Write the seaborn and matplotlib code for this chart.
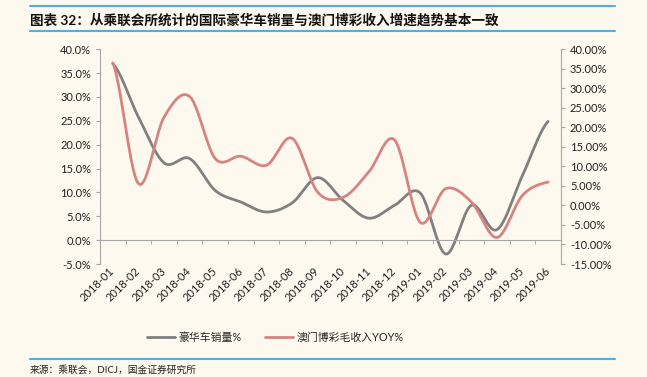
import numpy as np
import pandas as pd
import matplotlib
matplotlib.use("Agg")
import matplotlib.pyplot as plt
import seaborn as sns
from matplotlib.lines import Line2D
from matplotlib.ticker import FuncFormatter, MultipleLocator

# 数据
months = ["2018-01", "2018-02", "2018-03", "2018-04", "2018-05", "2018-06",
          "2018-07", "2018-08", "2018-09", "2018-10", "2018-11", "2018-12",
          "2019-01", "2019-02", "2019-03", "2019-04", "2019-05", "2019-06"]
luxury = [37.0, 25.8, 16.2, 17.1, 10.4, 8.0, 5.9, 7.8, 13.1, 8.3, 4.6, 7.3,
          9.9, -2.9, 7.3, 2.2, 13.6, 24.9]
macau = [36.5, 5.6, 22.6, 27.9, 12.0, 12.6, 10.3, 17.2, 3.4, 2.1, 8.6, 16.8,
         -4.3, 4.3, 0.9, -8.2, 2.6, 6.0]
series_names = ["豪华车销量%", "澳门博彩毛收入YOY%"]

BG = "#FDF9EE"
GRAY = "#808080"
RED = "#D68381"
AXIS = "#A6A6A6"


def smooth(vals, steps=24):
    # Excel 风格平滑线（Catmull-Rom）
    p = np.asarray(vals, dtype=float)
    p = np.concatenate([[p[0]], p, [p[-1]]])
    xs, ys = [], []
    for i in range(1, len(p) - 2):
        t = np.linspace(0, 1, steps, endpoint=False)
        p0, p1, p2, p3 = p[i - 1], p[i], p[i + 1], p[i + 2]
        y = 0.5 * (2 * p1 + (-p0 + p2) * t + (2 * p0 - 5 * p1 + 4 * p2 - p3) * t ** 2
                   + (-p0 + 3 * p1 - 3 * p2 + p3) * t ** 3)
        xs.append(i - 1 + t)
        ys.append(y)
    xs.append([len(vals) - 1])
    ys.append([vals[-1]])
    return pd.DataFrame({"x": np.concatenate(xs), "y": np.concatenate(ys)})


sns.set_style("white")
plt.rcParams["font.family"] = ["Lato", "Noto Sans CJK SC", "DejaVu Sans"]
plt.rcParams["axes.unicode_minus"] = False

fig = plt.figure(figsize=(6.47, 3.77), dpi=100, facecolor=BG)
ax = fig.add_axes([0.1546, 0.2997, 0.7124, 0.5696])
ax.set_facecolor(BG)
ax2 = ax.twinx()

df_lux = smooth(luxury)
df_mac = smooth(macau)
sns.lineplot(data=df_lux, x="x", y="y", ax=ax, color=GRAY, lw=2,
             sort=False, estimator=None)
sns.lineplot(data=df_mac, x="x", y="y", ax=ax2, color=RED, lw=2,
             sort=False, estimator=None)

ax.set_xlim(-0.5, len(months) - 0.5)
ax.set_ylim(-5, 40)
ax2.set_ylim(-15, 40)

ax.yaxis.set_major_locator(MultipleLocator(5))
ax2.yaxis.set_major_locator(MultipleLocator(5))
ax.yaxis.set_major_formatter(FuncFormatter(lambda v, p: f"{v:.1f}%"))
ax2.yaxis.set_major_formatter(FuncFormatter(lambda v, p: f"{v:.2f}%"))

for a in (ax, ax2):
    a.set_xlabel("")
    a.set_ylabel("")
    for s in a.spines.values():
        s.set_visible(False)

ax.spines["left"].set_visible(True)
ax.spines["left"].set_color(AXIS)
ax.spines["bottom"].set_visible(True)
ax.spines["bottom"].set_color(AXIS)
ax.spines["bottom"].set_position(("data", 0))
ax2.spines["right"].set_visible(True)
ax2.spines["right"].set_color(AXIS)

ax.set_xticks(range(len(months)))
ax.set_xticklabels(months, rotation=45, ha="right", va="center",
                   rotation_mode="anchor")
ax.set_xticks(np.arange(0.5, len(months) - 1, 1), minor=True)
ax.tick_params(axis="x", which="major", length=0, pad=21, labelsize=8,
               colors="#222222")
ax.tick_params(axis="x", which="minor", length=3, direction="out",
               color=AXIS, bottom=True)
ax.tick_params(axis="y", length=3, direction="out", color=AXIS, labelsize=8,
               labelcolor="#222222", left=True)
ax2.tick_params(axis="y", length=3, direction="out", color=AXIS, labelsize=8,
                labelcolor="#222222", right=True)

handles = [Line2D([], [], color=GRAY, lw=2), Line2D([], [], color=RED, lw=2)]
fig.legend(handles, series_names, loc="center", bbox_to_anchor=(0.425, 0.105),
           ncol=2, frameon=False, fontsize=7.8, handlelength=2.6,
           columnspacing=2.2, handletextpad=0.3)

fig.text(30 / 647, 0.947, "图表 32：从乘联会所统计的国际豪华车销量与澳门博彩收入增速趋势基本一致",
         fontsize=9.8, fontweight="bold", ha="left", va="center", color="#111111")
fig.text(30 / 647, 0.019, "来源：乘联会，DICJ，国金证券研究所", fontsize=7,
         ha="left", va="center", color="#222222")

for yy in (1 - 5.7 / 377, 1 - 30.7 / 377, 1 - 359 / 377):
    fig.add_artist(Line2D([30 / 647, 615 / 647], [yy, yy], color="#4BB0E3",
                          lw=1.5, transform=fig.transFigure))

fig.savefig("out.png", dpi=100, facecolor=BG)
